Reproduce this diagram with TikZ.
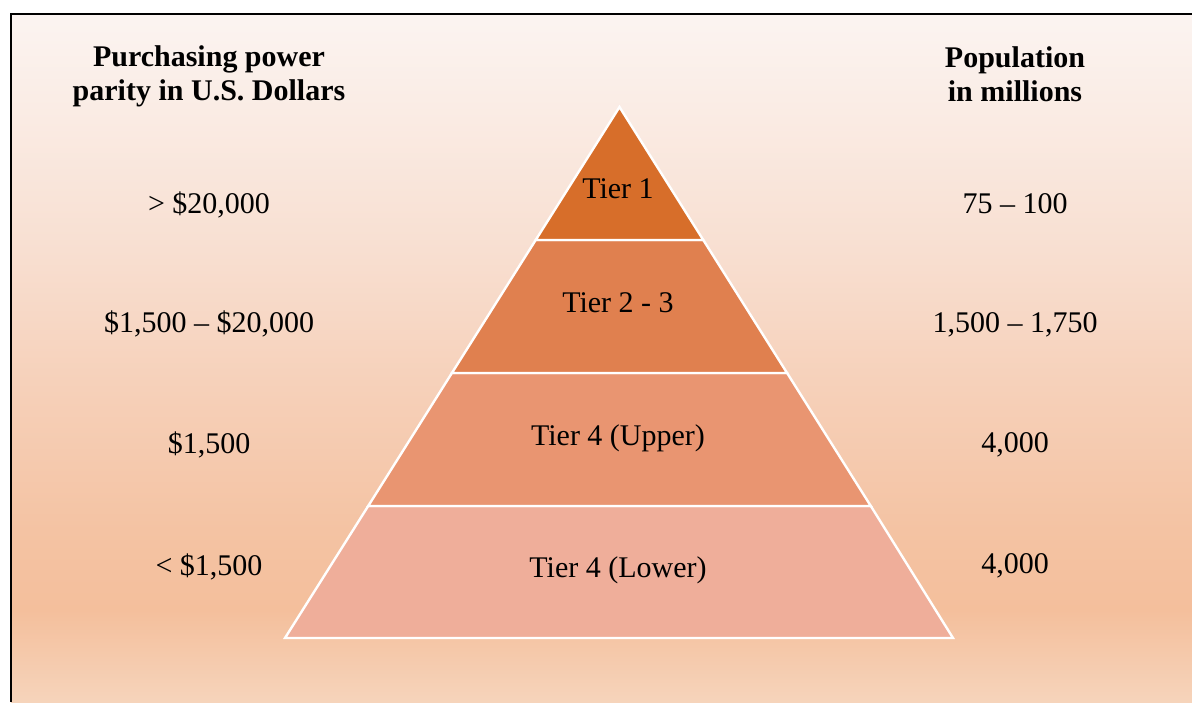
\documentclass[tikz,border=0pt]{standalone}
\usepackage{fontspec}
\setmainfont{Liberation Serif}
\definecolor{bgA}{HTML}{FBF4F1}
\definecolor{bgB}{HTML}{FAEBE3}
\definecolor{bgC}{HTML}{F8DFD1}
\definecolor{bgD}{HTML}{F6CFB7}
\definecolor{bgE}{HTML}{F4C3A3}
\definecolor{bgF}{HTML}{F4BF9C}
\definecolor{bgG}{HTML}{F6D4BB}
\definecolor{tierA}{HTML}{D76E2A}
\definecolor{tierB}{HTML}{E0804F}
\definecolor{tierC}{HTML}{E99571}
\definecolor{tierD}{HTML}{EFAE9A}
\tikzset{
  layer/.style={draw=white, line width=2.4pt, line join=miter},
  txt/.style={anchor=base, inner sep=0pt, font=\fontsize{30}{34}\selectfont},
  head/.style={txt, font=\fontsize{30}{34}\selectfont\bfseries},
}
\begin{document}
\begin{tikzpicture}[x=1pt,y=-1pt]
\useasboundingbox (0,0) rectangle (1192,702);
\fill[white] (0,0) rectangle (1192,702);
% background gradient bands
\shade[top color=bgA, bottom color=bgB, draw=none] (11,14) rectangle (1192,120);
\shade[top color=bgB, bottom color=bgC, draw=none] (11,120) rectangle (1192,250);
\shade[top color=bgC, bottom color=bgD, draw=none] (11,250) rectangle (1192,400);
\shade[top color=bgD, bottom color=bgE, draw=none] (11,400) rectangle (1192,530);
\shade[top color=bgE, bottom color=bgF, draw=none] (11,530) rectangle (1192,610);
\shade[top color=bgF, bottom color=bgG, draw=none] (11,610) rectangle (1192,702);
% frame (left and top edges visible)
\draw[black, line width=2pt] (11,702) -- (11,14) -- (1192,14);
% pyramid layers
\path[layer, fill=tierD] (368.2,506) -- (870.8,506) -- (953,638) -- (285,638) -- cycle;
\path[layer, fill=tierC] (451.9,373) -- (787.1,373) -- (870.8,506) -- (368.2,506) -- cycle;
\path[layer, fill=tierB] (535.7,240) -- (703.3,240) -- (787.1,373) -- (451.9,373) -- cycle;
\path[layer, fill=tierA] (619.5,107) -- (703.3,240) -- (535.7,240) -- cycle;
% tier labels
\node[txt] (t1) at (618,198) {Tier 1};
\node[txt] (t2) at (618,312) {Tier 2 - 3};
\node[txt] (t3) at (618,445) {Tier 4 (Upper)};
\node[txt] (t4) at (618,577) {Tier 4 (Lower)};
% headers
\node[head] (lh1) at (209,66) {Purchasing power};
\node[head] (lh2) at (209,100) {parity in U.S. Dollars};
\node[head] (rh1) at (1015,67) {Population};
\node[head] (rh2) at (1015,101) {in millions};
% left column
\node[txt] (l1) at (209,213) {> \$20,000};
\node[txt] (l2) at (209,332) {\$1,500 – \$20,000};
\node[txt] (l3) at (209,453) {\$1,500};
\node[txt] (l4) at (209,575) {< \$1,500};
% right column
\node[txt] (r1) at (1015,213) {75 – 100};
\node[txt] (r2) at (1015,332) {1,500 – 1,750};
\node[txt] (r3) at (1015,452) {4,000};
\node[txt] (r4) at (1015,573) {4,000};
\end{tikzpicture}
\end{document}
